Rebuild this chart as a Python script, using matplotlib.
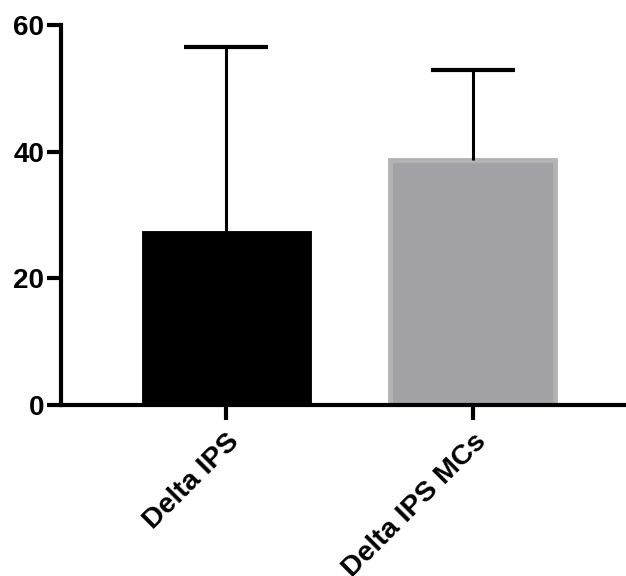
import numpy as np
import matplotlib
matplotlib.use('Agg')
import matplotlib.pyplot as plt

plt.rcParams['font.family'] = ['Liberation Sans', 'DejaVu Sans']
plt.rcParams['font.weight'] = 'bold'

groups = ['Delta IPS', 'Delta IPS MCs']
means = [27.2, 38.7]
upper_err = [29.3, 14.2]  # mean + err = top of whisker
bar_colors = ['black', '#a2a2a6']
edge_colors = ['black', '#b3b3b3']
y_ticks = [0, 20, 40, 60]

fig = plt.figure(figsize=(6.26, 5.76), dpi=100)
ax = fig.add_axes([0.0974, 0.2969, 0.9026, 0.6597])

x = np.arange(len(groups))
ax.bar(x, means, width=0.67, color=bar_colors, edgecolor=edge_colors,
       linewidth=3.5, zorder=2)
eb = ax.errorbar(x, means, yerr=[np.zeros(len(means)), upper_err], fmt='none',
                 ecolor='black', elinewidth=2.2, capsize=30, capthick=3, zorder=3)
# only the upper cap (one-sided error bar)
for cl in eb[1]:
    if np.allclose(cl.get_ydata(), means):
        cl.set_visible(False)

ax.set_xlim(-0.671, 1.621)
ax.set_ylim(0, 60)
ax.set_yticks(y_ticks)
ax.set_xticks(x)
ax.set_xticklabels(groups, rotation=45, ha='right', va='top',
                   rotation_mode='anchor', fontsize=20.5, fontweight='bold')
ax.tick_params(axis='y', length=10, width=3, labelsize=20, pad=2)
ax.tick_params(axis='x', length=11, width=3, pad=6)
for lab in ax.get_yticklabels():
    lab.set_fontweight('bold')

for s in ['top', 'right']:
    ax.spines[s].set_visible(False)
for s in ['left', 'bottom']:
    ax.spines[s].set_linewidth(3)
ax.spines['left'].set_zorder(4)

fig.savefig('out.png', dpi=100)
